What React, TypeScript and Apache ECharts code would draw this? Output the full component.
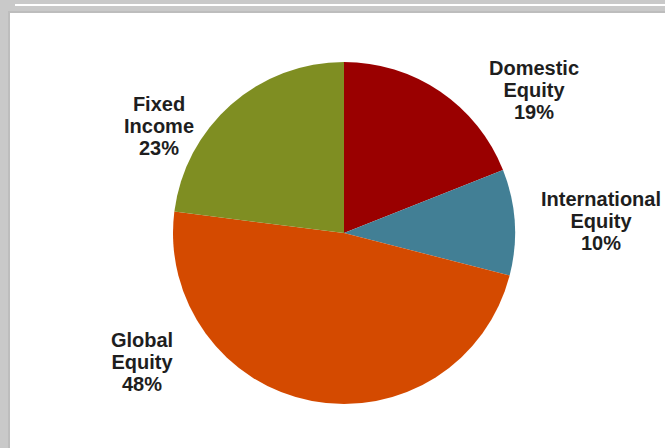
import React, { useEffect, useRef } from "react";
import * as echarts from "echarts";

const categories = ["Domestic\nEquity", "International\nEquity", "Global\nEquity", "Fixed\nIncome"];
const values = [19, 10, 48, 23];
const colors = ["#9a0000", "#427f95", "#d44a00", "#7f8e22"];
// label centre positions (pixels)
const labelPos = [
  [534, 90],
  [601, 221],
  [142, 362],
  [159, 126],
];

export default function App() {
  const ref = useRef<HTMLDivElement>(null);
  useEffect(() => {
    const chart = echarts.init(ref.current!, null, { renderer: "svg" });
    chart.setOption({
      animation: false,
      backgroundColor: "#c9c9c9",
      graphic: [
        { type: "rect", shape: { x: 15, y: 4, width: 660, height: 2 }, style: { fill: "#ffffff" }, silent: true },
        { type: "rect", shape: { x: 8, y: 11, width: 670, height: 450 }, style: { fill: "#bdbdbd" }, silent: true },
        { type: "rect", shape: { x: 10, y: 13, width: 670, height: 450 }, style: { fill: "#ffffff" }, silent: true },
      ],
      series: [
        {
          type: "pie",
          center: [344, 233],
          radius: 171,
          startAngle: 90,
          clockwise: true,
          data: categories.map((c, i) => ({
            name: c,
            value: values[i],
            itemStyle: { color: colors[i] },
          })),
          itemStyle: { borderWidth: 0 },
          label: {
            show: true,
            position: "outside",
            formatter: (p: any) => `${p.name}\n${p.value}%`,
            fontFamily: "Liberation Sans, Arial, sans-serif",
            fontWeight: "bold",
            fontSize: 20,
            lineHeight: 22,
            color: "#1e1e1e",
            align: "center",
            overflow: "none",
            width: 200,
          },
          labelLine: { show: false },
          labelLayout: (params: any) => ({
            x: labelPos[params.dataIndex][0],
            y: labelPos[params.dataIndex][1],
            align: "center",
            verticalAlign: "middle",
          }),
        },
      ],
    });
    return () => chart.dispose();
  }, []);
  return (
    <div
      ref={ref}
      style={{ position: "fixed", left: 0, top: 0, width: 665, height: 448 }}
    />
  );
}
